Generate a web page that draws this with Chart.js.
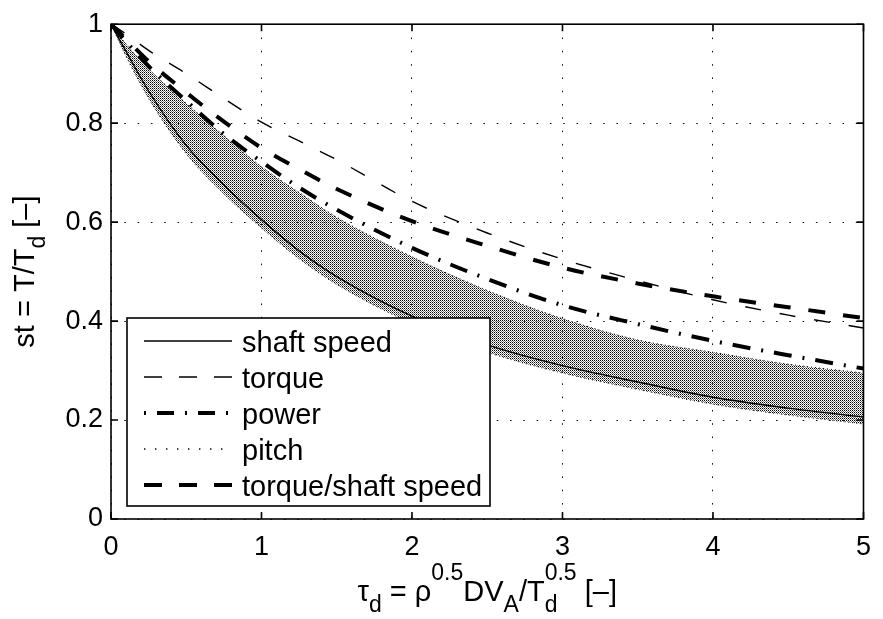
<!DOCTYPE html>
<html>
<head>
<meta charset="utf-8">
<script src="https://cdn.jsdelivr.net/npm/chart.js@4.4.1/dist/chart.umd.min.js"></script>
<style>
  html, body { margin: 0; padding: 0; background: #fff; }
</style>
</head>
<body>
<canvas id="chart" width="883" height="619"></canvas>
<script>
const xs = [0, 0.1, 0.25, 0.5, 0.75, 1, 1.25, 1.5, 2, 2.5, 3, 3.5, 4, 4.5, 5];

const shaftSpeed       = [1, 0.945, 0.865, 0.755, 0.675, 0.605, 0.542, 0.49, 0.41, 0.352, 0.31, 0.277, 0.246, 0.224, 0.206];
const torque           = [1, 0.98, 0.947, 0.9, 0.85, 0.802, 0.764, 0.726, 0.642, 0.578, 0.525, 0.482, 0.443, 0.412, 0.386];
const power            = [1, 0.965, 0.915, 0.845, 0.778, 0.722, 0.67, 0.625, 0.548, 0.485, 0.432, 0.394, 0.36, 0.331, 0.304];
const torqueShaftSpeed = [1, 0.97, 0.925, 0.862, 0.803, 0.75, 0.707, 0.667, 0.602, 0.552, 0.508, 0.476, 0.45, 0.428, 0.406];
// pitch is a dense family of dotted curves: upper and lower edge of the band
const pitchUpper       = [1, 0.96, 0.91, 0.84, 0.775, 0.712, 0.66, 0.61, 0.53, 0.462, 0.405, 0.362, 0.337, 0.313, 0.295];
const pitchLower       = [1, 0.935, 0.85, 0.738, 0.657, 0.588, 0.526, 0.474, 0.395, 0.337, 0.295, 0.262, 0.232, 0.21, 0.192];

const xTicks = [0, 1, 2, 3, 4, 5];
const xTickLabels = ['0', '1', '2', '3', '4', '5'];
const yTicks = [0, 0.2, 0.4, 0.6, 0.8, 1];
const yTickLabels = ['0', '0.2', '0.4', '0.6', '0.8', '1'];

const FONT = "'Liberation Sans', Arial, Helvetica, sans-serif";

const toPoints = arr => xs.map((x, i) => ({ x: x, y: arr[i] }));

// stipple used to fill the pitch band
function makeDotPattern() {
    const c = document.createElement('canvas');
    c.width = 2; c.height = 2;
    const g = c.getContext('2d');
    g.fillStyle = '#000';
    g.fillRect(0, 0, 1, 1);
    g.fillStyle = '#777';
    g.fillRect(1, 1, 1, 1);
    return g.createPattern(c, 'repeat');
}

const base = { borderColor: '#000', pointRadius: 0, cubicInterpolationMode: 'monotone', fill: false };

const datasets = [
    { ...base, label: 'shaft speed', data: toPoints(shaftSpeed), borderWidth: 1.4, order: 1 },
    { ...base, label: 'torque', data: toPoints(torque), borderWidth: 1.4, borderDash: [16, 19], order: 2 },
    { ...base, label: 'power', data: toPoints(power), borderWidth: 4, borderDash: [18, 11, 2, 11], order: 3 },
    { ...base, label: 'pitch', data: toPoints(pitchUpper), borderWidth: 1, borderDash: [1, 3],
      fill: '+1', backgroundColor: makeDotPattern(), order: 10 },
    { ...base, label: 'pitch', data: toPoints(pitchLower), borderWidth: 1, borderDash: [1, 3], order: 11, skipLegend: true },
    { ...base, label: 'torque/shaft speed', data: toPoints(torqueShaftSpeed), borderWidth: 4, borderDash: [17, 18], order: 0 }
];

// legend sample styles (dash offset makes power start with the dot)
const legendStyle = {
    'shaft speed': { w: 1.4, dash: [], off: 0 },
    'torque': { w: 1.4, dash: [18, 17], off: 0 },
    'power': { w: 4, dash: [17, 11, 2, 11], off: 28 },
    'pitch': { w: 1.4, dash: [1.4, 9.6], off: 0 },
    'torque/shaft speed': { w: 4, dash: [18, 17], off: 0 }
};

// draw text with sub/superscripts; parts: {t, sub, sup, stack}
const SCRIPT = 0.8;
function richWidth(ctx, parts, size) {
    let w = 0;
    parts.forEach(p => {
        if (p.sub || p.sup) {
            ctx.font = `${Math.round(size * SCRIPT)}px ${FONT}`;
            let pw = ctx.measureText(p.t).width;
            if (p.stack) pw = Math.max(pw, ctx.measureText(p.stack).width);
            w += pw;
        } else {
            ctx.font = `${size}px ${FONT}`;
            w += ctx.measureText(p.t).width;
        }
    });
    return w;
}

function drawRich(ctx, cx, baseline, parts, size) {
    let x = cx - richWidth(ctx, parts, size) / 2;
    ctx.textAlign = 'left';
    ctx.textBaseline = 'alphabetic';
    ctx.fillStyle = '#000';
    parts.forEach(p => {
        if (p.sub || p.sup) {
            ctx.font = `${Math.round(size * SCRIPT)}px ${FONT}`;
            const dy = p.sub ? size * 0.38 : -size * 0.74;
            ctx.fillText(p.t, x, baseline + dy);
            let pw = ctx.measureText(p.t).width;
            if (p.stack) {
                ctx.fillText(p.stack, x, baseline - size * 0.74);
                pw = Math.max(pw, ctx.measureText(p.stack).width);
            }
            x += pw;
        } else {
            ctx.font = `${size}px ${FONT}`;
            ctx.fillText(p.t, x, baseline);
            x += ctx.measureText(p.t).width;
        }
    });
}

const xTitle = [
    { t: '\u03C4' }, { t: 'd', sub: true }, { t: ' = \u03C1' }, { t: '0.5', sup: true },
    { t: 'DV' }, { t: 'A', sub: true }, { t: '/T' }, { t: 'd', sub: true, stack: '0.5' }, { t: ' [\u2013]' }
];
const yTitle = [{ t: 'st = T/T' }, { t: 'd', sub: true }, { t: ' [\u2013]' }];

const framePlugin = {
    id: 'frame',
    afterDatasetsDraw(chart) {
        const { ctx, chartArea: a, scales } = chart;
        ctx.save();

        // axes box with inward ticks
        ctx.strokeStyle = '#000';
        ctx.lineWidth = 1.6;
        ctx.setLineDash([]);
        ctx.strokeRect(a.left, a.top, a.right - a.left, a.bottom - a.top);
        const len = 7;
        ctx.beginPath();
        xTicks.forEach(v => {
            const px = scales.x.getPixelForValue(v);
            ctx.moveTo(px, a.bottom); ctx.lineTo(px, a.bottom - len);
            ctx.moveTo(px, a.top); ctx.lineTo(px, a.top + len);
        });
        yTicks.forEach(v => {
            const py = scales.y.getPixelForValue(v);
            ctx.moveTo(a.left, py); ctx.lineTo(a.left + len, py);
            ctx.moveTo(a.right, py); ctx.lineTo(a.right - len, py);
        });
        ctx.stroke();

        // legend box, lower left inside the axes
        const items = chart.data.datasets.filter(d => !d.skipLegend);
        const rowH = 36;
        const boxL = a.left + 16, boxB = a.bottom - 13;
        const boxH = 23 + rowH * (items.length - 1) + 21;
        const boxW = 363;
        const boxT = boxB - boxH;
        ctx.fillStyle = '#fff';
        ctx.fillRect(boxL, boxT, boxW, boxH);
        ctx.lineWidth = 1.6;
        ctx.strokeRect(boxL, boxT, boxW, boxH);

        items.forEach((d, i) => {
            const cy = boxT + 23 + i * rowH;
            const st = legendStyle[d.label];
            ctx.beginPath();
            ctx.lineWidth = st.w;
            ctx.setLineDash(st.dash);
            ctx.lineDashOffset = st.off;
            ctx.moveTo(boxL + 17, cy);
            ctx.lineTo(boxL + 105, cy);
            ctx.stroke();
            ctx.setLineDash([]);
            ctx.lineDashOffset = 0;
            ctx.font = `29px ${FONT}`;
            ctx.fillStyle = '#000';
            ctx.textAlign = 'left';
            ctx.textBaseline = 'alphabetic';
            ctx.fillText(d.label, boxL + 115, cy + 11);
        });
        ctx.restore();
    },
    afterDraw(chart) {
        const { ctx, chartArea: a } = chart;
        ctx.save();
        drawRich(ctx, (a.left + a.right) / 2, 601, xTitle, 29);
        ctx.translate(34, (a.top + a.bottom) / 2);
        ctx.rotate(-Math.PI / 2);
        drawRich(ctx, 0, 0, yTitle, 29);
        ctx.restore();
    }
};

const tickFont = { family: FONT, size: 27 };

new Chart(document.getElementById('chart'), {
    type: 'line',
    data: { datasets: datasets },
    options: {
        responsive: false,
        animation: false,
        layout: { padding: { top: 13, right: 10, left: 0, bottom: 0 } },
        plugins: { legend: { display: false }, tooltip: { enabled: false } },
        scales: {
            x: {
                type: 'linear', min: 0, max: 5,
                afterBuildTicks: s => { s.ticks = xTicks.map(v => ({ value: v })); },
                afterFit: s => { s.height = 100; },
                ticks: {
                    color: '#000', font: tickFont, padding: 12, maxRotation: 0,
                    callback: v => xTickLabels[xTicks.indexOf(v)]
                },
                grid: { color: '#111', lineWidth: 1, drawTicks: false },
                border: { display: false, dash: [1.6, 11.7] }
            },
            y: {
                type: 'linear', min: 0, max: 1,
                afterBuildTicks: s => { s.ticks = yTicks.map(v => ({ value: v })); },
                afterFit: s => { s.width = 111; },
                ticks: {
                    color: '#000', font: tickFont, padding: 8,
                    callback: v => yTickLabels[yTicks.findIndex(t => Math.abs(t - v) < 1e-9)]
                },
                grid: { color: '#111', lineWidth: 1, drawTicks: false },
                border: { display: false, dash: [1.6, 11.7] }
            }
        }
    },
    plugins: [framePlugin]
});
</script>
</body>
</html>
